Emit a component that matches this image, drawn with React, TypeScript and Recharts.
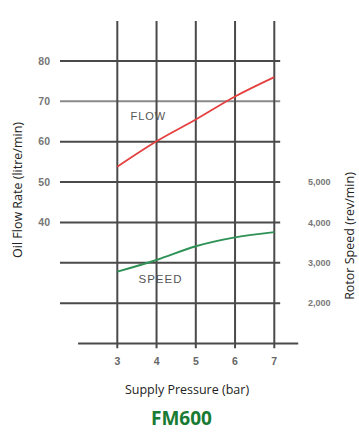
import React from 'react';
import { ComposedChart, Line, XAxis, YAxis, ReferenceLine, ReferenceDot } from 'recharts';

const pressures = [3, 4, 5, 6, 7];
const flowRate = [53.8, 60.1, 65.5, 71.2, 76.0];
const rotorSpeed = [2780, 3070, 3410, 3630, 3760];

const xTicks = [3, 4, 5, 6, 7];
const leftTicks = [40, 50, 60, 70, 80];
const rightTicks = [2000, 3000, 4000, 5000];
const gridRows = [20, 30, 40, 50, 60, 70, 80];

const data = pressures.map((p, i) => ({ p, flow: flowRate[i], speed: rotorSpeed[i] }));

const GRID = '#4a4a4a';
const FONT = '"Open Sans", "Noto Sans", sans-serif';
const TICK_FONT = '"Liberation Sans", Arial, sans-serif';

export default function App() {
  return (
    <div style={{ position: 'absolute', left: 0, top: 0, width: 359, height: 432, background: '#fff' }}>
      <ComposedChart width={359} height={432} data={data} margin={{ top: 9, right: 19, bottom: 50, left: 20 }}>
        <XAxis
          dataKey="p"
          type="number"
          domain={[1.54, 7.655]}
          allowDataOverflow
          ticks={xTicks}
          axisLine={false}
          tickLine={false}
          tickSize={0}
          tickMargin={6}
          height={30}
          tick={{ fill: '#666', fontSize: 10.5, fontWeight: 700, fontFamily: TICK_FONT }}
        />
        <YAxis
          yAxisId="left"
          orientation="left"
          domain={[7.9, 92.88]}
          allowDataOverflow
          ticks={leftTicks}
          axisLine={false}
          tickLine={false}
          tickSize={0}
          tickMargin={10}
          width={40}
          tick={{ fill: '#777', fontSize: 10.5, fontWeight: 700, fontFamily: TICK_FONT }}
        />
        <YAxis
          yAxisId="right"
          orientation="right"
          domain={[790, 9288]}
          allowDataOverflow
          ticks={rightTicks}
          axisLine={false}
          tickLine={false}
          tickSize={0}
          tickMargin={8}
          width={40}
          tickFormatter={(v: number) => v.toLocaleString('en-US')}
          tick={{ fill: '#777', fontSize: 9, fontWeight: 700, fontFamily: TICK_FONT, textAnchor: 'start' }}
        />
        {gridRows.map((v) => (
          <ReferenceLine
            key={'h' + v}
            yAxisId="left"
            segment={[{ x: 1.54, y: v }, { x: 7.15, y: v }]}
            stroke={v === 70 ? '#8a8a8a' : GRID}
            strokeWidth={2}
          />
        ))}
        <ReferenceLine yAxisId="left" segment={[{ x: 2, y: 10 }, { x: 7.61, y: 10 }]} stroke={GRID} strokeWidth={2} />
        <ReferenceLine yAxisId="left" segment={[{ x: 2, y: 10 }, { x: 2, y: 92.9 }]} stroke={GRID} strokeWidth={2} />
        {xTicks.map((v) => (
          <ReferenceLine
            key={'v' + v}
            yAxisId="left"
            segment={[{ x: v, y: 8.8 }, { x: v, y: 89.9 }]}
            stroke={GRID}
            strokeWidth={2}
          />
        ))}
        <Line
          yAxisId="left"
          dataKey="flow"
          type="monotone"
          stroke="#e4403f"
          strokeWidth={1.8}
          dot={false}
          isAnimationActive={false}
        />
        <Line
          yAxisId="right"
          dataKey="speed"
          type="monotone"
          stroke="#2e9156"
          strokeWidth={2}
          dot={false}
          isAnimationActive={false}
        />
        <ReferenceDot
          yAxisId="left"
          x={3.79}
          y={66.4}
          r={0}
          fill="none"
          stroke="none"
          label={{ value: 'FLOW', position: 'center', fill: '#555', fontSize: 11, fontFamily: TICK_FONT, letterSpacing: 1 }}
        />
        <ReferenceDot
          yAxisId="left"
          x={4.1}
          y={26.0}
          r={0}
          fill="none"
          stroke="none"
          label={{ value: 'SPEED', position: 'center', fill: '#555', fontSize: 11.5, fontFamily: TICK_FONT, letterSpacing: 1 }}
        />
      </ComposedChart>
      <div style={{ position: 'absolute', left: 18, top: 190, transform: 'translate(-50%, -50%) rotate(-90deg)', whiteSpace: 'nowrap', fontFamily: FONT, fontSize: 12.5, color: '#222', lineHeight: 1 }}>
        Oil Flow Rate (litre/min)
      </div>
      <div style={{ position: 'absolute', left: 350, top: 236, transform: 'translate(-50%, -50%) rotate(-90deg)', whiteSpace: 'nowrap', fontFamily: FONT, fontSize: 12.5, color: '#222', lineHeight: 1 }}>
        Rotor Speed (rev/min)
      </div>
      <div style={{ position: 'absolute', left: 187, top: 390, transform: 'translate(-50%, -50%)', whiteSpace: 'nowrap', fontFamily: FONT, fontSize: 12.5, color: '#222', lineHeight: 1 }}>
        Supply Pressure (bar)
      </div>
      <div style={{ position: 'absolute', left: 181.5, top: 418, transform: 'translate(-50%, -50%)', whiteSpace: 'nowrap', fontFamily: FONT, fontSize: 19, fontWeight: 700, color: '#187a33', lineHeight: 1 }}>
        FM600
      </div>
    </div>
  );
}
